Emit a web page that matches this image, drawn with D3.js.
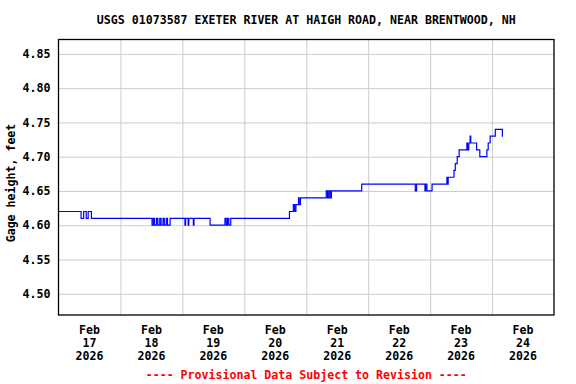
<!DOCTYPE html>
<html>
<head>
<meta charset="utf-8">
<script src="https://cdn.jsdelivr.net/npm/d3@7"></script>
<style>
body{margin:0;background:#fff;}
text{font-family:"DejaVu Sans Mono",monospace;font-weight:bold;}
</style>
</head>
<body>
<div id="root"></div>
<script>
// gage readings, 15-min stamps where the value changes
var stamps=['2026-02-17 00:00','2026-02-17 08:45','2026-02-17 09:45','2026-02-17 10:45','2026-02-17 11:30','2026-02-17 12:45',
 '2026-02-18 12:15','2026-02-18 12:45','2026-02-18 13:15','2026-02-18 14:00','2026-02-18 14:30','2026-02-18 15:15','2026-02-18 15:45',
 '2026-02-18 16:30','2026-02-18 17:00','2026-02-18 17:45','2026-02-18 18:15','2026-02-18 19:15',
 '2026-02-19 01:00','2026-02-19 01:15','2026-02-19 02:15','2026-02-19 02:30','2026-02-19 04:15','2026-02-19 04:30',
 '2026-02-19 10:45','2026-02-19 16:30','2026-02-19 17:00','2026-02-19 17:30','2026-02-19 18:00','2026-02-19 18:45',
 '2026-02-20 17:30','2026-02-20 19:00','2026-02-20 19:30','2026-02-20 20:00','2026-02-20 21:00','2026-02-20 21:15','2026-02-20 21:45',
 '2026-02-21 07:45','2026-02-21 08:15','2026-02-21 08:45','2026-02-21 09:15','2026-02-21 09:45','2026-02-21 21:30',
 '2026-02-22 18:15','2026-02-22 18:45','2026-02-22 22:00','2026-02-22 22:15','2026-02-22 22:45',
 '2026-02-23 00:45','2026-02-23 06:30','2026-02-23 06:45','2026-02-23 07:00','2026-02-23 09:15','2026-02-23 09:45','2026-02-23 10:30',
 '2026-02-23 11:15','2026-02-23 14:15','2026-02-23 14:30','2026-02-23 15:00','2026-02-23 15:30','2026-02-23 15:45','2026-02-23 18:00',
 '2026-02-23 19:15','2026-02-23 22:00','2026-02-23 22:30','2026-02-23 23:15',
 '2026-02-24 01:15','2026-02-24 04:00','2026-02-24 04:15'];
var heights=[4.62,4.61,4.62,4.61,4.62,4.61,
 4.60,4.61,4.60,4.61,4.60,4.61,4.60,
 4.61,4.60,4.61,4.60,4.61,
 4.60,4.61,4.60,4.61,4.60,4.61,
 4.60,4.61,4.60,4.61,4.60,4.61,
 4.62,4.63,4.62,4.63,4.64,4.63,4.64,
 4.65,4.64,4.65,4.64,4.65,4.66,
 4.65,4.66,4.65,4.66,4.65,
 4.66,4.67,4.66,4.67,4.68,4.69,4.70,
 4.71,4.72,4.71,4.72,4.73,4.72,4.71,
 4.70,4.71,4.72,4.73,
 4.74,4.73,4.73];

var yTicks=[4.50,4.55,4.60,4.65,4.70,4.75,4.80,4.85];
var dayLabels=['2026-02-17','2026-02-18','2026-02-19','2026-02-20','2026-02-21','2026-02-22','2026-02-23','2026-02-24'];

var title='USGS 01073587 EXETER RIVER AT HAIGH ROAD, NEAR BRENTWOOD, NH';
var yLabel='Gage height, feet';
var footer='---- Provisional Data Subject to Revision ----';

var b={t:39.5,r:22,b:69,l:58.5};
var W=576,H=384;
var w=W-b.l-b.r, h=H-b.t-b.b;
var fs=11.6;

var parseT=d3.timeParse('%Y-%m-%d %H:%M');
var parseD=d3.timeParse('%Y-%m-%d');
var fmtMon=d3.timeFormat('%b'), fmtDay=d3.timeFormat('%d'), fmtYr=d3.timeFormat('%Y');

var data=stamps.map(function(s,i){return {t:parseT(s),v:heights[i]}});

var svg=d3.select('#root').append('svg').attr('width',W).attr('height',H);
var g=svg.append('g').attr('transform','translate('+b.l+','+b.t+')');

var x=d3.scaleTime().domain([parseD('2026-02-17'),parseD('2026-02-25')]).range([0,w]);
var y=d3.scaleLinear().domain([4.469,4.871]).range([h,0]);

// horizontal grid + labels
var yAxis=d3.axisLeft(y).tickValues(yTicks).tickSize(-w).tickPadding(8).tickFormat(d3.format('.2f'));
var ya=g.append('g').attr('class','yaxis').call(yAxis);
ya.select('.domain').remove();
ya.selectAll('line').attr('stroke','#cccccc');
ya.selectAll('text').attr('font-size',fs).attr('fill','#000');

// vertical grid at midnight
var xGrid=d3.axisBottom(x).tickValues(d3.timeDay.range(parseD('2026-02-18'),parseD('2026-02-25'))).tickSize(-h).tickFormat('');
var xg=g.append('g').attr('transform','translate(0,'+h+')').call(xGrid);
xg.select('.domain').remove();
xg.selectAll('line').attr('stroke','#cccccc');

// day labels at noon
var noons=dayLabels.map(function(d){return d3.timeHour.offset(parseD(d),12)});
var xl=g.selectAll('.dlab').data(noons).enter().append('text').attr('class','dlab')
  .attr('x',function(d){return x(d)}).attr('y',h+19)
  .attr('text-anchor','middle').attr('font-size',fs);
xl.append('tspan').attr('x',function(d){return x(d)}).attr('dy',0).text(function(d){return fmtMon(d)});
xl.append('tspan').attr('x',function(d){return x(d)}).attr('dy',13).text(function(d){return fmtDay(d)});
xl.append('tspan').attr('x',function(d){return x(d)}).attr('dy',13).text(function(d){return fmtYr(d)});

var line=d3.line().curve(d3.curveStepAfter)
  .x(function(d){return x(d.t)}).y(function(d){return y(d.v)});
g.append('path').datum(data).attr('d',line).attr('fill','none').attr('stroke','#0000ff').attr('stroke-width',1.2);

g.append('rect').attr('width',w).attr('height',h).attr('fill','none').attr('stroke','#000').attr('stroke-width',1.3);

svg.append('text').attr('x',b.l+w/2).attr('y',24).attr('text-anchor','middle')
  .attr('font-size',fs).text(title);
svg.append('text').attr('transform','translate(15,'+183+') rotate(-90)').attr('text-anchor','middle')
  .attr('font-size',fs).text(yLabel);
svg.append('text').attr('x',b.l+w/2).attr('y',379).attr('text-anchor','middle')
  .attr('font-size',fs).attr('fill','#ff0000').text(footer);
</script>
</body>
</html>
